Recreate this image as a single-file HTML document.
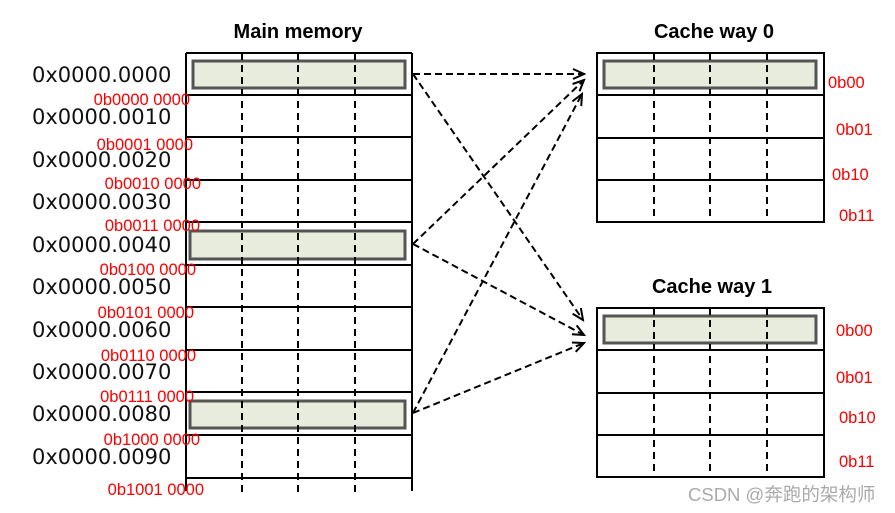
<!DOCTYPE html>
<html><head><meta charset="utf-8"><style>
body{margin:0;background:#fff;}
svg{display:block}
.hx{font-family:"DejaVu Sans",sans-serif;font-size:21px;fill:#111}
.rd{font-family:"Liberation Sans",sans-serif;font-size:16.5px;fill:#f00}
.t{font-family:"Liberation Sans",sans-serif;font-size:20px;font-weight:bold;fill:#000}
</style></head><body>
<svg width="895" height="513" viewBox="0 0 895 513" xmlns="http://www.w3.org/2000/svg">
<defs>
<marker id="a" markerWidth="14" markerHeight="12" refX="12" refY="6" orient="auto" markerUnits="userSpaceOnUse">
<path d="M1,1 L12,6 L1,11" fill="none" stroke="#000" stroke-width="2"/>
</marker>
</defs>
<text class="t" x="298" y="38" text-anchor="middle">Main memory</text>
<text class="t" x="714" y="38" text-anchor="middle">Cache way 0</text>
<text class="t" x="712" y="293" text-anchor="middle">Cache way 1</text>

<g stroke="#000" stroke-width="2" fill="none">
<line x1="186" y1="53" x2="186" y2="491"/>
<line x1="412" y1="53" x2="412" y2="491"/>
<line x1="186" y1="53" x2="412" y2="53"/>
<line x1="186" y1="95" x2="412" y2="95"/>
<line x1="186" y1="137" x2="412" y2="137"/>
<line x1="186" y1="180" x2="412" y2="180"/>
<line x1="186" y1="222" x2="412" y2="222"/>
<line x1="186" y1="265" x2="412" y2="265"/>
<line x1="186" y1="307" x2="412" y2="307"/>
<line x1="186" y1="350" x2="412" y2="350"/>
<line x1="186" y1="392" x2="412" y2="392"/>
<line x1="186" y1="435" x2="412" y2="435"/>
<line x1="186" y1="478" x2="412" y2="478"/>
</g>
<g fill="#e8ecdc" stroke="#555" stroke-width="3">
<rect x="193" y="61" width="212" height="27"/>
<rect x="190" y="231" width="215" height="28"/>
<rect x="190" y="401" width="215" height="27"/>
</g>
<g stroke="#000" stroke-width="2" stroke-dasharray="7,5">
<line x1="242" y1="53" x2="242" y2="492"/>
<line x1="298" y1="53" x2="298" y2="492"/>
<line x1="355" y1="53" x2="355" y2="492"/>
</g>

<g stroke="#000" stroke-width="2" fill="none">
<rect x="597" y="53" width="227" height="169"/>
<line x1="597" y1="95" x2="824" y2="95"/>
<line x1="597" y1="138" x2="824" y2="138"/>
<line x1="597" y1="180" x2="824" y2="180"/>
<rect x="597" y="308" width="227" height="169"/>
<line x1="597" y1="350" x2="824" y2="350"/>
<line x1="597" y1="393" x2="824" y2="393"/>
<line x1="597" y1="435" x2="824" y2="435"/>
</g>
<g fill="#e8ecdc" stroke="#555" stroke-width="3">
<rect x="604" y="61" width="212" height="27"/>
<rect x="604" y="316" width="212" height="27"/>
</g>
<g stroke="#000" stroke-width="2" stroke-dasharray="7,5">
<line x1="654" y1="53" x2="654" y2="222"/>
<line x1="710" y1="53" x2="710" y2="222"/>
<line x1="767" y1="53" x2="767" y2="222"/>
<line x1="654" y1="308" x2="654" y2="477"/>
<line x1="710" y1="308" x2="710" y2="477"/>
<line x1="767" y1="308" x2="767" y2="477"/>
</g>

<g stroke="#000" stroke-width="2" stroke-dasharray="7,4" fill="none" marker-end="url(#a)">
<line x1="413" y1="74" x2="584" y2="74"/>
<line x1="413" y1="74" x2="583" y2="320"/>
<line x1="413" y1="244" x2="584" y2="80"/>
<line x1="413" y1="244" x2="584" y2="335"/>
<line x1="413" y1="413" x2="582" y2="94"/>
<line x1="413" y1="413" x2="584" y2="343"/>
</g>

<g class="hx">
<text x="32" y="82">0x0000.0000</text>
<text x="32" y="124">0x0000.0010</text>
<text x="32" y="167">0x0000.0020</text>
<text x="32" y="209">0x0000.0030</text>
<text x="32" y="252">0x0000.0040</text>
<text x="32" y="294">0x0000.0050</text>
<text x="32" y="337">0x0000.0060</text>
<text x="32" y="379">0x0000.0070</text>
<text x="32" y="421">0x0000.0080</text>
<text x="32" y="464">0x0000.0090</text>
</g>
<g class="rd" text-anchor="end">
<text x="190" y="105">0b0000 0000</text>
<text x="193" y="150">0b0001 0000</text>
<text x="201" y="189">0b0010 0000</text>
<text x="200" y="231">0b0011 0000</text>
<text x="196" y="275">0b0100 0000</text>
<text x="194" y="318">0b0101 0000</text>
<text x="196" y="361">0b0110 0000</text>
<text x="194" y="402">0b0111 0000</text>
<text x="200" y="445">0b1000 0000</text>
<text x="204" y="495">0b1001 0000</text>
</g>
<g class="rd">
<text x="828" y="88">0b00</text>
<text x="836" y="135">0b01</text>
<text x="832" y="180">0b10</text>
<text x="839" y="221">0b11</text>
<text x="836" y="336">0b00</text>
<text x="836" y="383">0b01</text>
<text x="839" y="423">0b10</text>
<text x="839" y="467">0b11</text>
</g>
<text x="688" y="501" style="font-family:'Liberation Sans','Noto Sans CJK SC',sans-serif;font-size:18.5px;fill:#aaa">CSDN @奔跑的架构师</text>
</svg>
</body></html>
